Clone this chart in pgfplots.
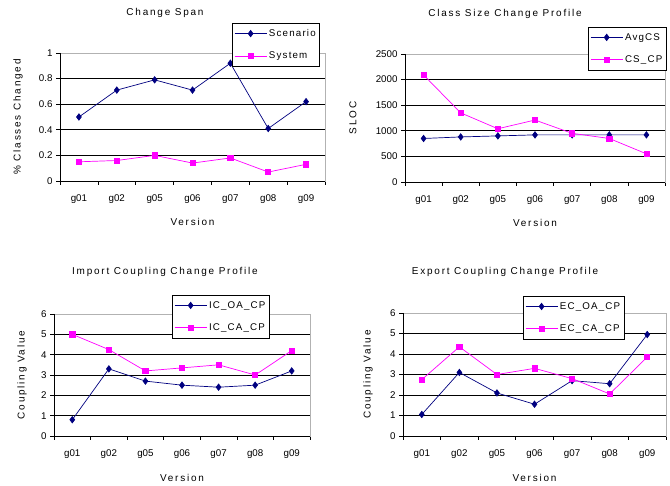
\documentclass[border=0pt]{standalone}
\usepackage{pgfplots}
\pgfplotsset{compat=1.18}
\usepackage{fontspec}
\setmainfont{Liberation Sans}
\newfontfamily\lsfont{Liberation Sans}[LetterSpace=12]
\newfontfamily\ttlfont{Liberation Sans}[LetterSpace=18]
\definecolor{navy}{RGB}{0,0,128}
\definecolor{mag}{RGB}{255,0,255}
\newcommand{\fs}{\fontsize{9.8}{11}\selectfont}
\newcommand{\ls}{\lsfont\fontsize{9.8}{11}\selectfont}
\newcommand{\tl}{\ttlfont\fontsize{10}{11}\selectfont}
\pgfplotsset{
 myax/.style={
  scale only axis,
  anchor=south west,
  xmin=-0.5, xmax=6.5,
  xtick={-0.5,0.5,...,6.5},
  xticklabels={g01,g02,g05,g06,g07,g08,g09},
  x tick label as interval,
  xtick pos=bottom, ytick pos=left,
  ymajorgrids,
  grid style={black, line width=0.6pt},
  axis line style={gray!60, line width=0.5pt},
  tick align=outside,
  tick style={black, line width=0.6pt},
  major tick length=4bp,
  /pgf/number format/assume math mode=true,
  /pgf/number format/1000 sep={},
  tick label style={font=\fs},
  label style={font=\tl},
  xlabel=Version,
  xticklabel style={yshift=-6bp},
  xlabel style={at={(axis description cs:0.5,0)}, anchor=center, yshift=-41bp},
  legend style={font=\ls, draw=black, line width=0.6pt, anchor=north west,
     cells={anchor=west}, inner xsep=2pt, inner ysep=4bp, row sep=10bp},
  legend image code/.code={\draw[##1] (0bp,0bp)--(32bp,0bp); \draw[##1] plot coordinates {(16bp,0bp)};},
  clip=false,
  after end axis/.code={\draw[black, line width=0.6pt] (rel axis cs:0,1) -- (rel axis cs:0,0) -- (rel axis cs:1,0);},
 },
 s1/.style={navy, line width=0.7pt, mark=diamond*, mark size=3.2pt, mark options={solid, fill=navy}},
 s2/.style={mag, line width=0.7pt, mark=square*, mark size=2.6pt, mark options={solid, fill=mag}},
}
\begin{document}
\begin{tikzpicture}[x=1bp,y=1bp]
\useasboundingbox (0,0) rectangle (670,486);
\fill[white] (0,0) rectangle (670,486);
% Plot 1
\begin{axis}[myax, at={(60bp,305bp)}, width=265bp, height=128bp,
  ymin=0, ymax=1, ytick={0,0.2,...,1},
  yticklabels={0,0.2,0.4,0.6,0.8,1},
  ylabel={\% Classes Changed},
  ylabel style={at={(axis description cs:-0.158,0.5)}, anchor=center},
  legend style={at={(0.649,1.234)}}]
\addplot[s1] coordinates {(0,0.50) (1,0.71) (2,0.79) (3,0.71) (4,0.92) (5,0.41) (6,0.62)};
\addlegendentry{Scenario}
\addplot[s2] coordinates {(0,0.15) (1,0.16) (2,0.20) (3,0.14) (4,0.18) (5,0.07) (6,0.13)};
\addlegendentry{System}
\end{axis}
\node[font=\tl] at (165,473) {Change Span};
% Plot 2
\begin{axis}[myax, at={(405bp,304bp)}, width=260bp, height=128bp,
  ymin=0, ymax=2500, ytick={0,500,...,2500},
  ylabel={SLOC},
  ylabel style={at={(axis description cs:-0.2,0.5)}, anchor=center},
  legend style={at={(0.704,1.211)}}]
\addplot[s1] coordinates {(0,850) (1,880) (2,900) (3,920) (4,920) (5,920) (6,920)};
\addlegendentry{AvgCS}
\addplot[s2] coordinates {(0,2090) (1,1350) (2,1040) (3,1210) (4,950) (5,850) (6,550)};
\addlegendentry{CS\_CP}
\end{axis}
\node[font=\tl] at (505,472) {Class Size Change Profile};
% Plot 3
\begin{axis}[myax, at={(54bp,50bp)}, width=256bp, height=122bp,
  ymin=0, ymax=6, ytick={0,...,6},
  ylabel={Coupling Value},
  ylabel style={at={(axis description cs:-0.125,0.5)}, anchor=center},
  xlabel style={yshift=-1bp},
  legend style={at={(0.461,1.156)}}]
\addplot[s1] coordinates {(0,0.8) (1,3.3) (2,2.7) (3,2.5) (4,2.4) (5,2.5) (6,3.2)};
\addlegendentry{IC\_OA\_CP}
\addplot[s2] coordinates {(0,5.0) (1,4.25) (2,3.2) (3,3.35) (4,3.5) (5,3.0) (6,4.2)};
\addlegendentry{IC\_CA\_CP}
\end{axis}
\node[font=\tl] at (165,214) {Import Coupling Change Profile};
% Plot 4
\begin{axis}[myax, at={(403bp,50bp)}, width=263bp, height=123bp,
  ymin=0, ymax=6, ytick={0,...,6},
  ylabel={Coupling Value},
  ylabel style={at={(axis description cs:-0.133,0.5)}, anchor=center},
  xlabel style={yshift=-1bp},
  legend style={at={(0.456,1.138)}}]
\addplot[s1] coordinates {(0,1.05) (1,3.1) (2,2.1) (3,1.55) (4,2.7) (5,2.55) (6,4.95)};
\addlegendentry{EC\_OA\_CP}
\addplot[s2] coordinates {(0,2.75) (1,4.35) (2,3.0) (3,3.3) (4,2.8) (5,2.05) (6,3.85)};
\addlegendentry{EC\_CA\_CP}
\end{axis}
\node[font=\tl] at (505,214) {Export Coupling Change Profile};
\end{tikzpicture}
\end{document}
